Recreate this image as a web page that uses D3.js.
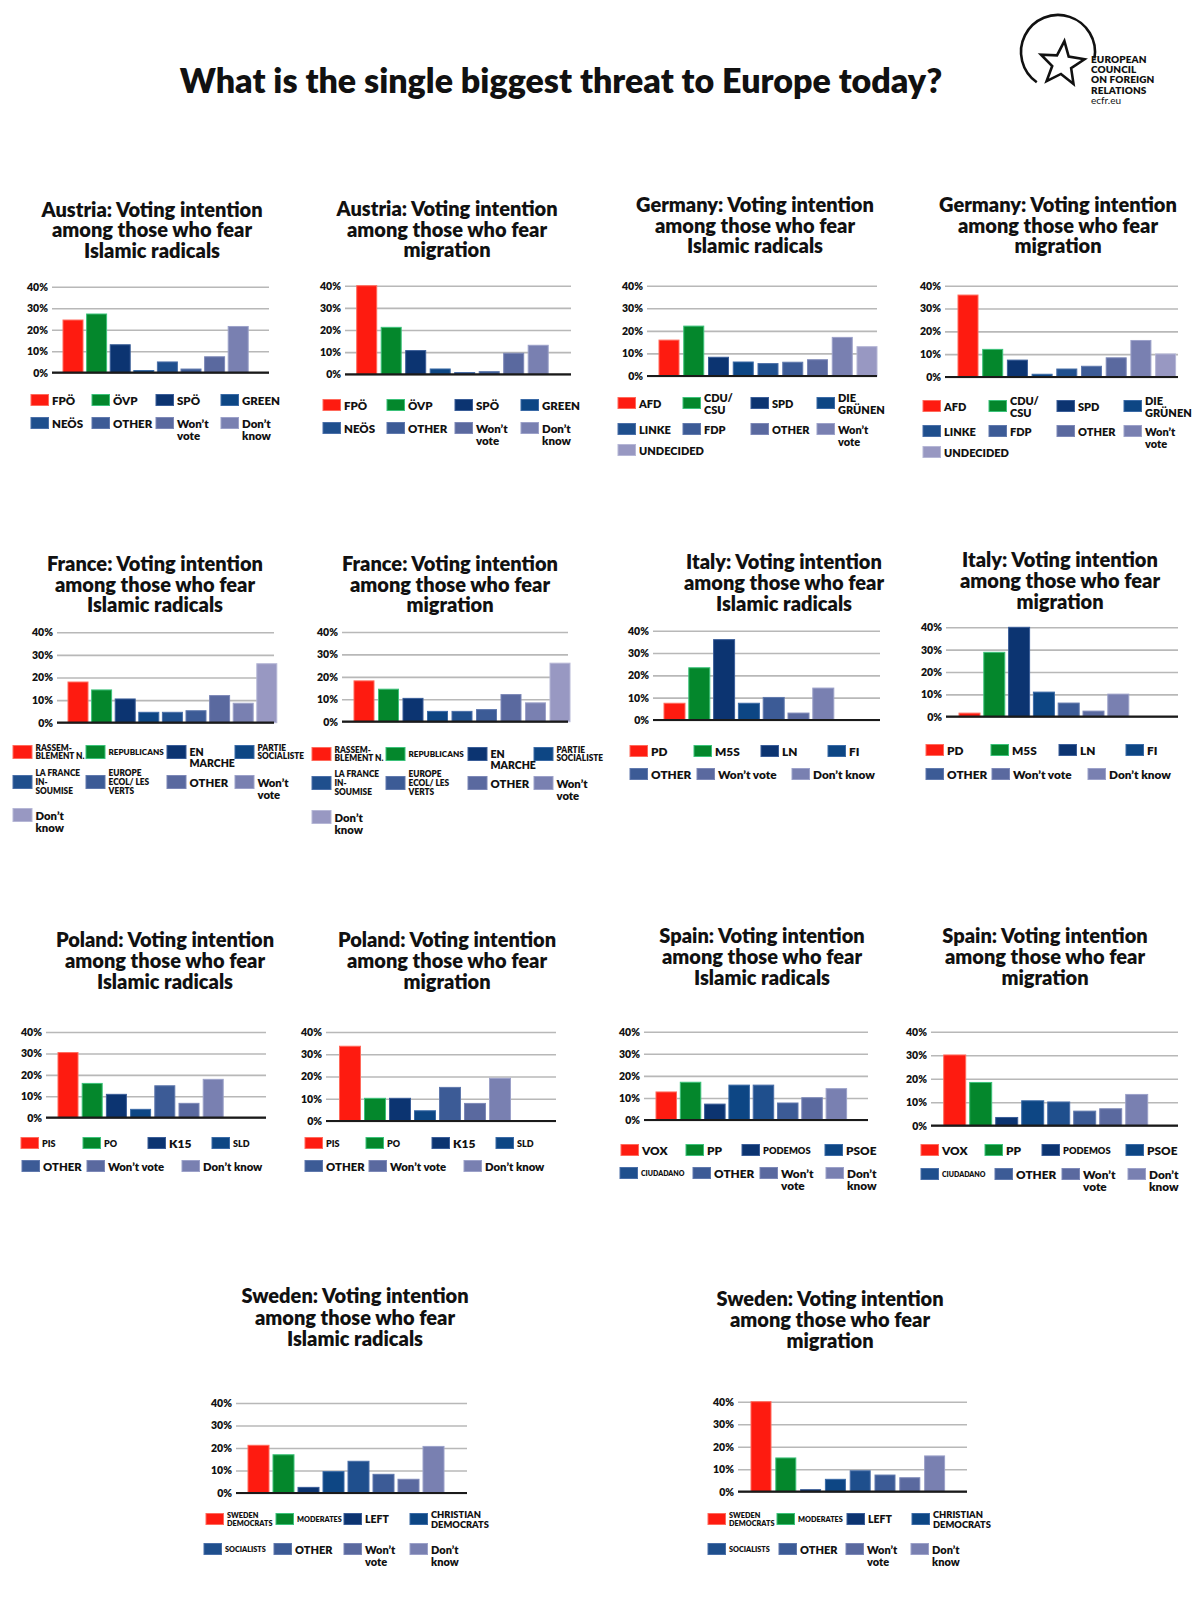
<!DOCTYPE html>
<html><head><meta charset="utf-8">
<script src="https://cdn.jsdelivr.net/npm/d3@7"></script>
<style>
body{margin:0;background:#fff;}
svg text{font-family:Lato,"Open Sans",sans-serif;}
</style></head><body>
<svg id="chart" width="1200" height="1600"></svg>
<script>
// ---------------- DATA ----------------
const mainTitle = "What is the single biggest threat to Europe today?";
const yTicks = [0, 10, 20, 30, 40];

const austriaParties = ["FPÖ","ÖVP","SPÖ","GREEN","NEÖS","OTHER","Won’t\nvote","Don’t\nknow"];
const austriaIslamic = [24.5, 27.3, 13, 1, 5, 1.7, 7.4, 21.5];
const austriaMigration = [40, 21.2, 10.7, 2.4, 0.8, 1.2, 9.5, 13.1];

const germanyParties = ["AFD","CDU/\nCSU","SPD","DIE\nGRÜNEN","LINKE","FDP","OTHER","Won’t\nvote","UNDECIDED"];
const germanyIslamic = [15.9, 22.1, 8.3, 6.2, 5.5, 6.1, 7.2, 17.1, 13];
const germanyMigration = [35.9, 12.1, 7.4, 1.2, 3.5, 4.7, 8.4, 16, 10.1];

const franceParties = ["RASSEM-\nBLEMENT N.","REPUBLICANS","EN\nMARCHE","PARTIE\nSOCIALISTE","LA FRANCE\nIN-\nSOUMISE","EUROPE\nECOL/ LES\nVERTS","OTHER","Won’t\nvote","Don’t\nknow"];
const franceIslamic = [18, 14.5, 10.5, 4.6, 4.6, 5.3, 12, 8.6, 26.1];
const franceMigration = [18.2, 14.5, 10.4, 4.6, 4.6, 5.4, 12.1, 8.4, 26.1];

const italyParties = ["PD","M5S","LN","FI","OTHER","Won’t vote","Don’t know"];
const italyIslamic = [7.5, 23.4, 36, 7.5, 10.1, 3.1, 14.3];
const italyMigration = [1.6, 28.8, 40, 11, 6.1, 2.5, 10.1];

const polandParties = ["PIS","PO","K15","SLD","OTHER","Won’t vote","Don’t know"];
const polandIslamic = [30.4, 16, 10.9, 3.9, 14.9, 6.7, 17.9];
const polandMigration = [33.6, 10.2, 10.2, 4.6, 15.1, 7.9, 19.2];

const spainParties = ["VOX","PP","PODEMOS","PSOE","CIUDADANO","OTHER","Won’t\nvote","Don’t\nknow"];
const spainIslamic = [12.7, 17.1, 7.2, 15.8, 15.8, 7.7, 10.1, 14.2];
const spainMigration = [30.1, 18.4, 3.5, 10.6, 10.1, 6.2, 7.2, 13.3];

const swedenParties = ["SWEDEN\nDEMOCRATS","MODERATES","LEFT","CHRISTIAN\nDEMOCRATS","SOCIALISTS","OTHER","Won’t\nvote","Don’t\nknow"];
const swedenIslamic = [21.2, 17, 2.5, 9.5, 14.1, 8.3, 6.1, 20.7];
const swedenMigration = [40, 15, 0.9, 5.5, 9.3, 7.4, 6.2, 15.9];

const logoLines = ["EUROPEAN","COUNCIL","ON FOREIGN","RELATIONS"];
const logoUrl = "ecfr.eu";

// ---------------- STYLE ----------------
const fill = ["#fe1b10","#04872c","#0c3471","#0d4684","#1f4f8d","#3c5b96","#5a699f","#7980b1","#9898c2"];
const edge = ["#ff6a5c","#3cc27a","#3a5d98","#3a6aa6","#4a6fa8","#6079ad","#7d88b7","#9ca1c9","#b6b7d6"];
const slots9 = [0,1,2,3,4,5,6,7,8];
const slots8 = [0,1,2,3,4,5,6,7];
const slots7 = [0,1,2,3,5,6,7];
const labelSize = {
  "RASSEM-\nBLEMENT N.":8.3, "REPUBLICANS":8.1, "PARTIE\nSOCIALISTE":8.3,
  "LA FRANCE\nIN-\nSOUMISE":8.3, "EUROPE\nECOL/ LES\nVERTS":8.3, "EN\nMARCHE":10.5,
  "PIS":9, "PO":9, "SLD":9, "K15":12, "PODEMOS":9.3, "CIUDADANO":7,
  "SWEDEN\nDEMOCRATS":7.3, "MODERATES":7.3, "SOCIALISTS":7.3, "LEFT":10.5, "CHRISTIAN\nDEMOCRATS":9.3
};

const T = (c, topic) => c + ": Voting intention\namong those who fear\n" + topic;

const panels = [
 {title:T("Austria","Islamic radicals"), cats:austriaParties, vals:austriaIslamic, slots:slots8,
  L:{gx0:52,gx1:269,yt:286.7,yb:372.7,bx:63,step:23.6,bw:20,tx:152,ty:[216.5,237,257.5],lfs:11.5,
     lx:[31,92,156,221,31,92,156,221], ly:[400,400,400,400,423,423,423,423]}},
 {title:T("Austria","migration"), cats:austriaParties, vals:austriaMigration, slots:slots8,
  L:{gx0:345,gx1:571,yt:285.7,yb:374.3,bx:356.7,step:24.5,bw:20,tx:447,ty:[216,236.5,257],lfs:11.5,
     lx:[323,387,455,521,323,387,455,521], ly:[405,405,405,405,428,428,428,428]}},
 {title:T("Germany","Islamic radicals"), cats:germanyParties, vals:germanyIslamic, slots:slots9,
  L:{gx0:647,gx1:877,yt:285.7,yb:376,bx:659,step:24.75,bw:20,tx:755,ty:[212,232.5,253],lfs:11,
     lx:[618,683,751,817,618,683,751,817,618], ly:[403,403,403,403,429,429,429,429,450]}},
 {title:T("Germany","migration"), cats:germanyParties, vals:germanyMigration, slots:slots9,
  L:{gx0:945,gx1:1178,yt:285.7,yb:377,bx:958,step:24.7,bw:20,tx:1058,ty:[212,232.5,253],lfs:11,
     lx:[923,989,1057,1124,923,989,1057,1124,923], ly:[406,406,406,406,431,431,431,431,452]}},
 {title:T("France","Islamic radicals"), cats:franceParties, vals:franceIslamic, slots:slots9,
  L:{gx0:57,gx1:274,yt:632.3,yb:722.7,bx:68,step:23.6,bw:20,tx:155,ty:[571,591.5,612],lfs:11.3,sw:19,sh:13,
     lx:[13,86,167,235,13,86,167,235,13], ly:[752,752,752,752,782,782,782,782,815]}},
 {title:T("France","migration"), cats:franceParties, vals:franceMigration, slots:slots9,
  L:{gx0:342,gx1:568,yt:632,yb:721.7,bx:354,step:24.5,bw:20,tx:450,ty:[571,591.5,612],lfs:11.3,sw:19,sh:13,
     lx:[312,386,468,534,312,386,468,534,312], ly:[754,754,754,754,783,783,783,783,817]}},
 {title:T("Italy","Islamic radicals"), cats:italyParties, vals:italyIslamic, slots:slots7,
  L:{gx0:653,gx1:880,yt:630.7,yb:720,bx:664,step:24.8,bw:21,tx:784,ty:[569,590,611],lfs:11.8,
     lx:[630,694,761,828,630,697,792], ly:[751,751,751,751,774,774,774]}},
 {title:T("Italy","migration"), cats:italyParties, vals:italyMigration, slots:slots7,
  L:{gx0:946,gx1:1178,yt:627.3,yb:716.7,bx:959,step:24.8,bw:21,tx:1060,ty:[567,588,609],lfs:11.8,
     lx:[926,991,1059,1126,926,992,1088], ly:[750,750,750,750,774,774,774]}},
 {title:T("Poland","Islamic radicals"), cats:polandParties, vals:polandIslamic, slots:slots7,
  L:{gx0:46,gx1:266,yt:1032,yb:1117.7,bx:58,step:24.2,bw:20,tx:165,ty:[947,968,989],lfs:11.3,
     lx:[21,83,148,212,22,87,182], ly:[1143,1143,1143,1143,1166,1166,1166]}},
 {title:T("Poland","migration"), cats:polandParties, vals:polandMigration, slots:slots7,
  L:{gx0:326,gx1:556,yt:1032,yb:1121,bx:339.5,step:25,bw:21,tx:447,ty:[947,968,989],lfs:11.3,
     lx:[305,366,432,496,305,369,464], ly:[1143,1143,1143,1143,1166,1166,1166]}},
 {title:T("Spain","Islamic radicals"), cats:spainParties, vals:spainIslamic, slots:slots8,
  L:{gx0:644,gx1:868,yt:1031.7,yb:1120,bx:656,step:24.3,bw:20.5,tx:762,ty:[943,964,985],lfs:11.8,
     lx:[621,686,742,825,620,693,760,826], ly:[1150,1150,1150,1150,1173,1173,1173,1173]}},
 {title:T("Spain","migration"), cats:spainParties, vals:spainMigration, slots:slots8,
  L:{gx0:931,gx1:1178,yt:1031.7,yb:1125.7,bx:943.7,step:26,bw:22,tx:1045,ty:[943,964,985],lfs:11.8,
     lx:[921,985,1042,1126,921,995,1062,1128], ly:[1150,1150,1150,1150,1174,1174,1174,1174]}},
 {title:T("Sweden","Islamic radicals"), cats:swedenParties, vals:swedenIslamic, slots:slots8,
  L:{gx0:236,gx1:467,yt:1403,yb:1493,bx:248,step:25,bw:21,tx:355,ty:[1303,1324.5,1346],lfs:11,
     lx:[206,276,344,410,204,274,344,410], ly:[1519,1519,1519,1519,1549,1549,1549,1549]}},
 {title:T("Sweden","migration"), cats:swedenParties, vals:swedenMigration, slots:slots8,
  L:{gx0:738,gx1:967,yt:1401.7,yb:1491.7,bx:751,step:24.8,bw:20,tx:830,ty:[1306,1327,1348],lfs:11,
     lx:[708,777,847,912,708,779,846,911], ly:[1519,1519,1519,1519,1549,1549,1549,1549]}}
];

// ---------------- DRAW ----------------
const svg = d3.select("#chart");
svg.append("rect").attr("width",1200).attr("height",1600).attr("fill","#fff");

svg.append("text").attr("x",561).attr("y",93).attr("text-anchor","middle")
  .attr("font-size",34).attr("font-weight",800).attr("fill","#111").text(mainTitle);

// logo
const logo = svg.append("g");
const arcPath = d3.path();
arcPath.arc(1058, 52, 37, (-145-90)*Math.PI/180 + 2*Math.PI, (100-90)*Math.PI/180 + 2*Math.PI, false);
logo.append("path").attr("d", arcPath.toString()).attr("fill","none").attr("stroke","#111").attr("stroke-width",2.6);
const starPts = d3.range(10).map(i => {
  const a = (6 + i*36 - 90) * Math.PI/180, rr = i % 2 ? 10 : 23;
  return [1062 + rr*Math.cos(a), 64 + rr*Math.sin(a)];
});
logo.append("path").attr("d", d3.line()(starPts) + "Z").attr("fill","#fff").attr("stroke","#111").attr("stroke-width",2.6).attr("stroke-linejoin","miter");
logoLines.forEach((s,i) => logo.append("text").attr("x",1091).attr("y",63 + i*10.2)
  .attr("font-size",10).attr("font-weight",800).attr("letter-spacing",0.1).attr("fill","#111").text(s));
logo.append("text").attr("x",1091).attr("y",63 + 4*10.2).attr("font-size",10).attr("fill","#111").text(logoUrl);

panels.forEach(p => {
  const L = p.L;
  const g = svg.append("g");
  const title = g.append("text").attr("text-anchor","middle").attr("font-size",20)
    .attr("font-weight",800).attr("fill","#111");
  p.title.split("\n").forEach((line,i) => title.append("tspan").attr("x",L.tx).attr("y",L.ty[i]).text(line));

  const y = d3.scaleLinear().domain([0,40]).range([L.yb, L.yt]);
  const n = p.cats.length;
  const pad = (L.step - L.bw) / L.step;
  const r0 = L.bx - (L.step - L.bw)/2;
  const x = d3.scaleBand().domain(d3.range(n)).range([r0, r0 + n*L.step]).paddingInner(pad).paddingOuter(pad/2);

  const ax = g.append("g").attr("transform",`translate(${L.gx0},0)`)
    .call(d3.axisLeft(y).tickValues(yTicks).tickFormat(d => d + "%").tickSize(-(L.gx1 - L.gx0)).tickPadding(4));
  ax.attr("font-family",null).attr("font-size",null);
  ax.select(".domain").remove();
  ax.selectAll(".tick line").attr("stroke","#b8b8b8").attr("stroke-width",1.6);
  ax.selectAll(".tick text").attr("font-size",10.5).attr("font-weight",800).attr("fill","#111");

  g.selectAll("rect.bar").data(p.vals).join("rect").attr("class","bar")
    .attr("x",(d,i) => x(i)).attr("y",d => y(d))
    .attr("width",x.bandwidth()).attr("height",d => y(0) - y(d))
    .attr("fill",(d,i) => fill[p.slots[i]]).attr("stroke",(d,i) => edge[p.slots[i]]).attr("stroke-width",1);

  g.append("line").attr("x1",L.gx0).attr("x2",L.gx1).attr("y1",y(0)).attr("y2",y(0))
    .attr("stroke","#1a1a1a").attr("stroke-width",2.2);

  const sw = L.sw || 17.5, sh = L.sh || 11;
  p.cats.forEach((c,i) => {
    const lx = L.lx[i], ly = L.ly[i];
    g.append("rect").attr("x",lx).attr("y",ly - sh/2).attr("width",sw).attr("height",sh)
      .attr("fill",fill[p.slots[i]]).attr("stroke",edge[p.slots[i]]).attr("stroke-width",1);
    const lines = c.split("\n");
    const fs = labelSize[c] || L.lfs;
    const lh = fs * 1.05;
    const hanging = /^(Won’t|Don’t|EN)\n/.test(c);
    const y0 = hanging ? ly : ly - (lines.length - 1) * lh / 2;
    const t = g.append("text").attr("font-size",fs).attr("font-weight",800).attr("fill","#111")
      .attr("dominant-baseline","central");
    lines.forEach((ln,j) => t.append("tspan").attr("x",lx + sw + 3.5).attr("y",y0 + j*lh).text(ln));
  });
});
</script>
</body></html>
